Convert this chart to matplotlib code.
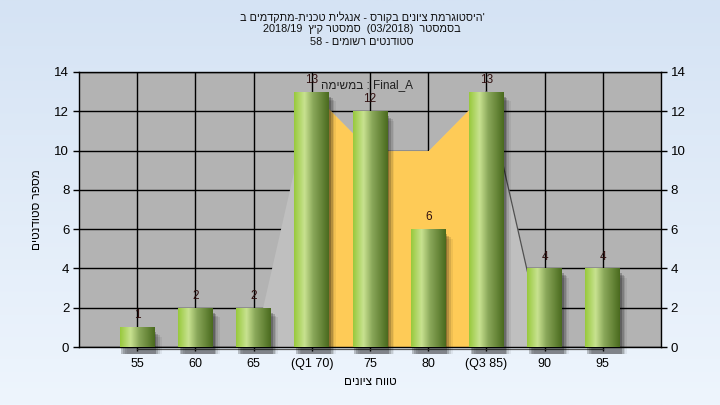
import re
import numpy as np
import matplotlib
matplotlib.use("Agg")
import matplotlib.pyplot as plt
from matplotlib.colors import LinearSegmentedColormap
from matplotlib.patches import Rectangle

plt.rcParams['font.family'] = ['Liberation Sans', 'DejaVu Sans']

# data
grade_labels = ["55", "60", "65", "(Q1 70)", "75", "80", "(Q3 85)", "90", "95"]
counts = [1, 2, 2, 13, 12, 6, 13, 4, 4]
# background area series (outline behind the bars)
area_vals = [0, 0, 0, 13, 10, 10, 13, 0, 0]
q1_idx, q3_idx = 3, 6

title_lines = [
    "'היסטוגרמת ציונים בקורס - אנגלית טכנית-מתקדמים ב",
    "בסמסטר  (03/2018)  סמסטר קיץ  2018/19",
    "סטודנטים רשומים - 58",
]
task_label = "Final_A : במשימה"
x_title = "טווח ציונים"
y_title = "מספר סטודנטים"


def vis(s):
    # logical RTL text -> visual left-to-right order for matplotlib
    r = s[::-1]
    r = re.sub(r"[0-9A-Za-z_/.]+", lambda m: m.group()[::-1], r)
    r = r.translate(str.maketrans("()", ")("))
    return r


pos = np.arange(1, len(counts) + 1)

fig = plt.figure(figsize=(7.2, 4.05), dpi=100)

# figure background gradient
bg = fig.add_axes([0, 0, 1, 1], zorder=-10)
grad = np.linspace(0, 1, 256).reshape(-1, 1)
bg_cmap = LinearSegmentedColormap.from_list("bg", ["#d5e3f4", "#eef5fd"])
bg.imshow(grad, aspect="auto", cmap=bg_cmap, extent=[0, 1, 0, 1])
bg.set_axis_off()

ax = fig.add_axes([79 / 720, 58 / 405, 582 / 720, 275 / 405])
ax.set_facecolor("#b3b3b3")
ax.set_xlim(0, len(counts) + 1)
ax.set_ylim(0, 14)

ax.set_axisbelow(True)
ax.grid(True, color="black", linewidth=1.0)

# area behind bars
ax.fill_between(pos, area_vals, color="#bfbfbf", linewidth=0, zorder=1)
mid = slice(q1_idx, q3_idx + 1)
ax.fill_between(pos[mid], np.array(area_vals)[mid], color="#fecb57", linewidth=0, zorder=1.1)
ax.plot(pos[q3_idx:q3_idx + 2], area_vals[q3_idx:q3_idx + 2], color="#505050", lw=0.9, zorder=1.2)
ax.plot([pos[0], pos[-1]], [-0.1, -0.1], color="#555555", lw=0.9, zorder=1.2, clip_on=False)

# bars
bar_w = 0.6
bar_cmap = LinearSegmentedColormap.from_list(
    "bar", [(0, "#98c93c"), (0.3, "#c8e290"), (0.55, "#8aa85a"), (1, "#4a6a1e")])
bars = ax.bar(pos, counts, width=bar_w, color="none", zorder=3)
hgrad = np.linspace(0, 1, 128).reshape(1, -1)
for b in bars:
    x0, w, h = b.get_x(), b.get_width(), b.get_height()
    # soft shadow
    for k, a in enumerate([0.22, 0.16, 0.1, 0.06]):
        ax.add_patch(Rectangle((x0 + 0.03 + 0.03 * k, -0.35), w, h + 0.1 - 0.08 * k,
                               color="black", alpha=a, lw=0, zorder=2, clip_on=False))
    im = ax.imshow(hgrad, aspect="auto", cmap=bar_cmap, extent=[x0, x0 + w, 0, h],
                   zorder=3.5, interpolation="bilinear")
    im.set_clip_path(b)
    ax.text(x0 + w / 2, h + 0.3, str(h), ha="center", va="bottom",
            fontsize=8.5, color="#301010", zorder=5)
ax.set_xlim(0, len(counts) + 1)
ax.set_ylim(0, 14)

ax.set_xticks(pos)
ax.set_xticklabels(grade_labels, fontsize=9)
ax.set_yticks(np.arange(0, 15, 2))
ax.tick_params(axis="x", length=3, width=1, color="black", pad=5)
ax.tick_params(axis="y", length=4, width=1, color="black", labelsize=9.5,
               right=True, labelright=True, pad=3)
for s in ax.spines.values():
    s.set_color("black")
    s.set_linewidth(1)

ax.set_xlabel(vis(x_title), fontsize=8.5, labelpad=4)
ax.set_ylabel(vis(y_title), fontsize=8.5, labelpad=8)

ax.text((367 - 79) / 582, (347 - 85) / 275, vis(task_label), transform=ax.transAxes,
        ha="center", va="center", fontsize=8.5, color="#202020", zorder=6)

for i, line in enumerate(title_lines):
    fig.text(362 / 720, 1 - (17 + 12.5 * i) / 405, vis(line), ha="center", va="center",
             fontsize=7.8, color="#101010")

fig.savefig("out.png", dpi=100)
